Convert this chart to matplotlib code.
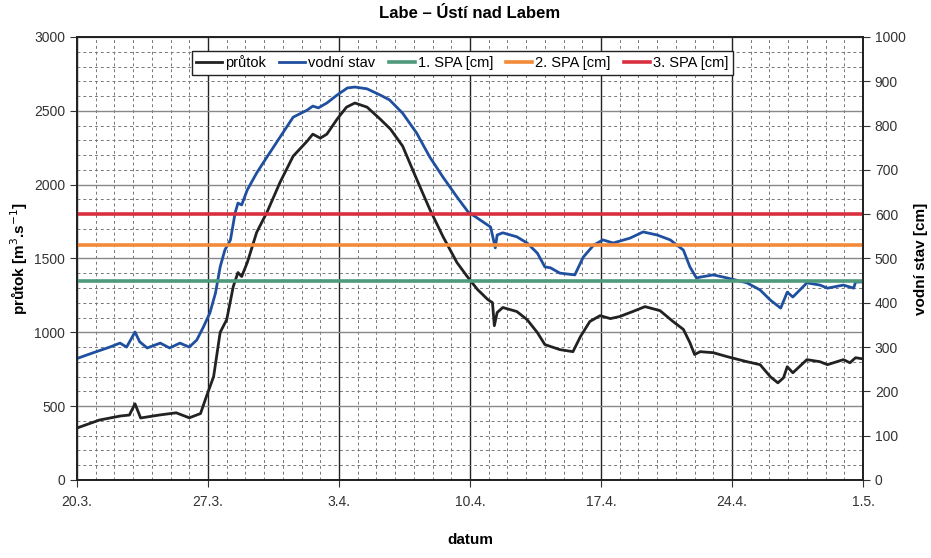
import numpy as np
import matplotlib.pyplot as plt

plt.rcParams['font.family'] = ['Liberation Sans', 'DejaVu Sans']

# days from 20.3.
flow_days = [0.0, 1.2, 2.3, 2.8, 3.1, 3.4, 4.4, 5.3, 6.0, 6.6, 6.9, 7.3, 7.65, 8.0,
             8.35, 8.6, 8.8, 9.1, 9.6, 10.15, 10.85, 11.55, 12.3, 12.6, 13.0, 13.35,
             13.9, 14.4, 14.85, 15.5, 16.2, 16.75, 17.4, 18.15, 18.85, 19.55, 20.3,
             20.85, 21.4, 21.95, 22.2, 22.3, 22.45, 22.75, 23.5, 24.05, 24.6, 25.0,
             25.8, 26.5, 26.9, 27.4, 27.95, 28.5, 29.0, 29.7, 30.35, 31.15, 31.85,
             32.4, 32.75, 33.0, 33.3, 34.0, 34.75, 35.8, 36.5, 37.05, 37.45, 37.75,
             37.95, 38.25, 39.0, 39.7, 40.1, 40.95, 41.3, 41.6, 42.0]
flow = [352, 406, 433, 440, 516, 420, 440, 455, 421, 450, 560, 700, 1000, 1086,
        1310, 1405, 1378, 1473, 1677, 1813, 2016, 2193, 2295, 2342, 2315, 2342,
        2444, 2525, 2553, 2525, 2444, 2376, 2261, 2037, 1833, 1650, 1473,
        1378, 1290, 1222, 1201, 1045, 1134, 1168, 1141, 1086, 998, 917,
        883, 869, 971, 1073, 1113, 1093, 1107, 1141, 1174, 1147, 1073,
        1020, 930, 850, 869, 862, 835, 801, 781, 699, 658, 692,
        767, 726, 815, 801, 781, 815, 794, 828, 820]

stage_days = [0.05, 0.85, 1.75, 2.3, 2.65, 3.1, 3.35, 3.75, 4.45, 4.95, 5.5, 6.0,
              6.4, 6.75, 7.1, 7.4, 7.65, 7.9, 8.2, 8.45, 8.6, 8.8, 9.1, 9.6, 10.15,
              10.85, 11.55, 12.3, 12.6, 12.9, 13.35, 13.9, 14.45, 14.85, 15.5, 16.2,
              16.7, 17.4, 18.15, 18.85, 19.55, 20.3, 20.9, 21.4, 22.1, 22.35, 22.45,
              22.75, 23.5, 24.05, 24.6, 25.0, 25.3, 25.8, 26.6, 27.05, 27.6, 28.1,
              28.65, 29.55, 30.25, 31.0, 31.7, 32.4, 32.75, 33.1, 33.3, 34.0, 34.75,
              35.8, 36.5, 37.05, 37.6, 37.95, 38.25, 39.0, 39.7, 40.1, 40.95, 41.5,
              41.6, 42.0]
stage = [275, 287, 300, 309, 300, 334, 312, 298, 309, 298, 309, 300,
         316, 345, 377, 422, 481, 519, 542, 603, 625, 621, 655, 693, 729,
         774, 819, 835, 844, 840, 851, 869, 885, 887, 883, 869,
         858, 828, 783, 729, 684, 639, 605, 591, 571, 524, 553,
         558, 549, 535, 512, 481, 479, 467, 463, 503, 530, 542,
         535, 546, 560, 553, 542, 519, 481, 456, 458, 463, 456,
         445, 429, 406, 388, 424, 413, 445, 440, 433, 440, 433,
         447, 447]

spa_names = ['1. SPA [cm]', '2. SPA [cm]', '3. SPA [cm]']
spa_levels = [450, 530, 600]
spa_colors = ['#4f9a7c', '#f28a3a', '#d8303e']

tick_days = [0, 7, 14, 21, 28, 35, 42]
tick_labels = ['20.3.', '27.3.', '3.4.', '10.4.', '17.4.', '24.4.', '1.5.']

fig = plt.figure(figsize=(9.31, 5.58), dpi=100)
ax = fig.add_axes([0.0827, 0.1398, 0.8443, 0.7939])
ax2 = ax.twinx()

# grid
ax.set_xticks(tick_days)
ax.set_xticklabels(tick_labels)
ax.set_xticks(np.arange(0, 43, 1), minor=True)
ax.set_yticks(np.arange(0, 3001, 500))
ax.set_yticks(np.arange(0, 3001, 100), minor=True)
ax.grid(which='minor', color='#777777', linestyle=(0, (3, 3)), linewidth=0.7)
ax.grid(which='major', axis='x', color='#222222', linewidth=1.0)
ax.grid(which='major', axis='y', color='#888888', linewidth=1.0)
ax.tick_params(which='minor', length=0)
ax.tick_params(which='major', direction='out', length=5, labelsize=10, colors='#333333')
ax.tick_params(axis='x', pad=6)
ax.set_axisbelow(True)

l1, = ax.plot(flow_days, flow, color='#222222', lw=2.0, label='průtok')
l2, = ax2.plot(stage_days, stage, color='#1f4f9f', lw=2.0, label='vodní stav')
spa_lines = []
for name, lev, col in zip(spa_names, spa_levels, spa_colors):
    ln, = ax2.plot([0, 42], [lev, lev], color=col, lw=2.6, label=name)
    spa_lines.append(ln)

ax.set_xlim(0, 42)
ax.set_ylim(0, 3000)
ax2.set_ylim(0, 1000)
ax2.set_yticks(np.arange(0, 1001, 100))
ax2.tick_params(direction='out', length=5, labelsize=10, colors='#333333')

for a in (ax, ax2):
    for s in a.spines.values():
        s.set_color('#222222')
        s.set_linewidth(1.3)

ax.set_ylabel('průtok [m$^3$.s$^{-1}$]', fontsize=11, fontweight='bold', labelpad=3)
ax2.set_ylabel('vodní stav [cm]', fontsize=11, fontweight='bold', labelpad=6)
ax.set_xlabel('datum', fontsize=11, fontweight='bold', labelpad=17)
ax.set_title('Labe – Ústí nad Labem', fontsize=12, fontweight='bold', pad=14)

leg = ax2.legend(handles=[l1, l2] + spa_lines, loc='upper center',
                 bbox_to_anchor=(0.49, 0.985), ncol=5, fontsize=10.5,
                 frameon=True, fancybox=False, handlelength=1.8,
                 handletextpad=0.2, columnspacing=0.9, borderpad=0.3)
leg.get_frame().set_edgecolor('#222222')
leg.get_frame().set_linewidth(1.0)
leg.get_frame().set_alpha(1)

fig.savefig('out.png', dpi=100)
